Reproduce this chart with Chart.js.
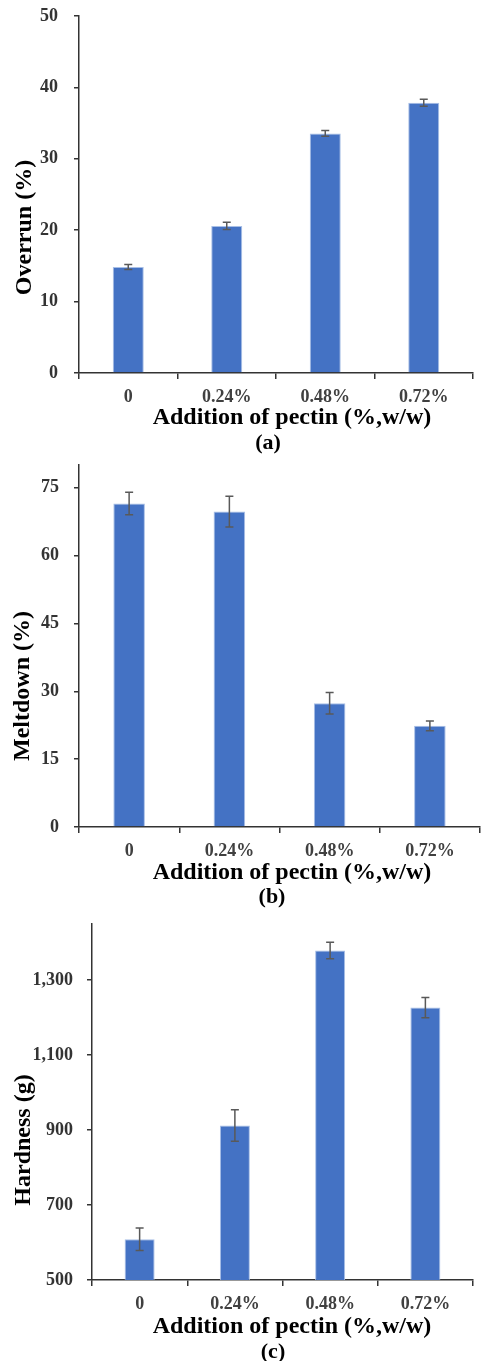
<!DOCTYPE html>
<html>
<head>
<meta charset="utf-8">
<script src="https://cdn.jsdelivr.net/npm/chart.js@4.4.0/dist/chart.umd.min.js"></script>
<style>
  html, body { margin: 0; padding: 0; background: #fff; }
  body { width: 481px; height: 1361px; position: relative; overflow: hidden; }
  .panel { position: absolute; left: 0; width: 481px; }
</style>
</head>
<body>
<div class="panel" style="top:0;height:456px"><canvas id="chartOverrun"></canvas></div>
<div class="panel" style="top:456px;height:454px"><canvas id="chartMeltdown"></canvas></div>
<div class="panel" style="top:910px;height:451px"><canvas id="chartHardness"></canvas></div>
<script>
// ===== Data =====
const categories = ["0", "0.24%", "0.48%", "0.72%"];

const overrunValues = [14.85, 20.6, 33.55, 37.85];
const overrunErrors = [0.35, 0.5, 0.4, 0.5];
const overrunTicks = [0, 10, 20, 30, 40, 50];

const meltdownValues = [71.5, 69.7, 27.35, 22.35];
const meltdownErrors = [2.5, 3.4, 2.4, 1.1];
const meltdownTicks = [0, 15, 30, 45, 60, 75];

const hardnessValues = [609, 912, 1379, 1227];
const hardnessErrors = [30, 42, 22, 27];
const hardnessTicks = [500, 700, 900, 1100, 1300];

const FONT = "'Liberation Serif', 'Times New Roman', serif";
const BAR_BLUE = "#4472c4";
const AXIS_COLOR = "#333333";
const X_TITLE = "Addition of pectin (%,w/w)";

// error bars drawn from the y scale
const errorBarPlugin = {
  id: "errorBars",
  afterDatasetsDraw(chart, args, opts) {
    const ctx = chart.ctx;
    const yScale = chart.scales.y;
    const values = chart.data.datasets[0].data;
    ctx.save();
    ctx.strokeStyle = "#595959";
    ctx.lineWidth = 1.5;
    chart.getDatasetMeta(0).data.forEach((bar, i) => {
      const e = opts.errors[i];
      const yTop = yScale.getPixelForValue(values[i] + e);
      const yBot = yScale.getPixelForValue(values[i] - e);
      ctx.beginPath();
      ctx.moveTo(bar.x, yTop); ctx.lineTo(bar.x, yBot);
      ctx.moveTo(bar.x - 4, yTop); ctx.lineTo(bar.x + 4, yTop);
      ctx.moveTo(bar.x - 4, yBot); ctx.lineTo(bar.x + 4, yBot);
      ctx.stroke();
    });
    ctx.restore();
  }
};

// axis titles + panel letter, placed like in the figure (not centred on the plot)
const captionPlugin = {
  id: "captions",
  afterDraw(chart, args, opts) {
    const { ctx, chartArea } = chart;
    ctx.save();
    ctx.fillStyle = "#000";
    ctx.textAlign = "center";
    ctx.textBaseline = "middle";

    // y title, rotated
    ctx.save();
    ctx.translate(opts.yTitleX, (chartArea.top + chartArea.bottom) / 2 + opts.yTitleShift);
    ctx.rotate(-Math.PI / 2);
    ctx.font = "bold 24px " + FONT;
    ctx.fillText(opts.yTitle, 0, 0);
    ctx.restore();

    ctx.font = "bold 24px " + FONT;
    ctx.fillText(X_TITLE, opts.xTitleX, chartArea.bottom + opts.xTitleDy);
    ctx.font = "bold 22px " + FONT;
    ctx.fillText(opts.label, opts.labelX, chartArea.bottom + opts.labelDy);
    ctx.restore();
  }
};

function makeChart(canvasId, cfg) {
  return new Chart(document.getElementById(canvasId), {
    type: "bar",
    data: {
      labels: categories,
      datasets: [{
        data: cfg.values,
        backgroundColor: BAR_BLUE,
        borderColor: "#a8bfe6",
        borderWidth: 1,
        categoryPercentage: 1,
        barPercentage: 0.315
      }]
    },
    plugins: [errorBarPlugin, captionPlugin],
    options: {
      responsive: true,
      maintainAspectRatio: false,
      animation: false,
      layout: { padding: { top: cfg.padTop, right: cfg.padRight, left: 0, bottom: cfg.padBottom } },
      plugins: {
        legend: { display: false },
        tooltip: { enabled: false },
        title: { display: false },
        errorBars: { errors: cfg.errors },
        captions: cfg.captions
      },
      scales: {
        x: {
          afterFit(scale) {
            scale.height = 30;
            scale.paddingLeft = 0; scale.paddingRight = 0;
          },
          grid: { display: true, drawOnChartArea: false, drawTicks: true, tickLength: 6, color: AXIS_COLOR, lineWidth: 1.5 },
          border: { display: true, color: AXIS_COLOR, width: 1.5 },
          ticks: { color: "#404040", padding: 8, font: { family: FONT, size: 18, weight: "bold" } }
        },
        y: {
          min: cfg.min,
          max: cfg.max,
          afterFit(scale) {
            scale.width = cfg.yWidth;
            scale.paddingTop = 0; scale.paddingBottom = 0;
          },
          afterBuildTicks(scale) { scale.ticks = cfg.ticks.map(v => ({ value: v })); },
          grid: { display: true, drawOnChartArea: false, drawTicks: true, tickLength: 5, color: AXIS_COLOR, lineWidth: 1.5 },
          border: { display: true, color: AXIS_COLOR, width: 1.5 },
          ticks: {
            color: "#333333",
            padding: cfg.tickPad,
            font: { family: FONT, size: 18, weight: "bold" },
            callback: v => v.toLocaleString("en-US")
          }
        }
      }
    }
  });
}

makeChart("chartOverrun", {
  values: overrunValues, errors: overrunErrors, ticks: overrunTicks,
  min: 0, max: 50, yWidth: 79, padTop: 16, padRight: 8, padBottom: 53, tickPad: 16,
  captions: { yTitle: "Overrun (%)", yTitleX: 25, yTitleShift: 33,
              xTitleX: 292, xTitleDy: 45, label: "(a)", labelX: 268, labelDy: 70 }
});

makeChart("chartMeltdown", {
  values: meltdownValues, errors: meltdownErrors, ticks: meltdownTicks,
  min: 0, max: 80, yWidth: 79, padTop: 9, padRight: 1, padBottom: 53, tickPad: 15,
  captions: { yTitle: "Meltdown (%)", yTitleX: 23, yTitleShift: 40,
              xTitleX: 292, xTitleDy: 46, label: "(b)", labelX: 272, labelDy: 70 }
});

makeChart("chartHardness", {
  values: hardnessValues, errors: hardnessErrors, ticks: hardnessTicks,
  min: 500, max: 1450, yWidth: 92, padTop: 14, padRight: 8, padBottom: 51, tickPad: 14,
  captions: { yTitle: "Hardness (g)", yTitleX: 24, yTitleShift: 38,
              xTitleX: 292, xTitleDy: 47, label: "(c)", labelX: 273, labelDy: 72 }
});
</script>
</body>
</html>
